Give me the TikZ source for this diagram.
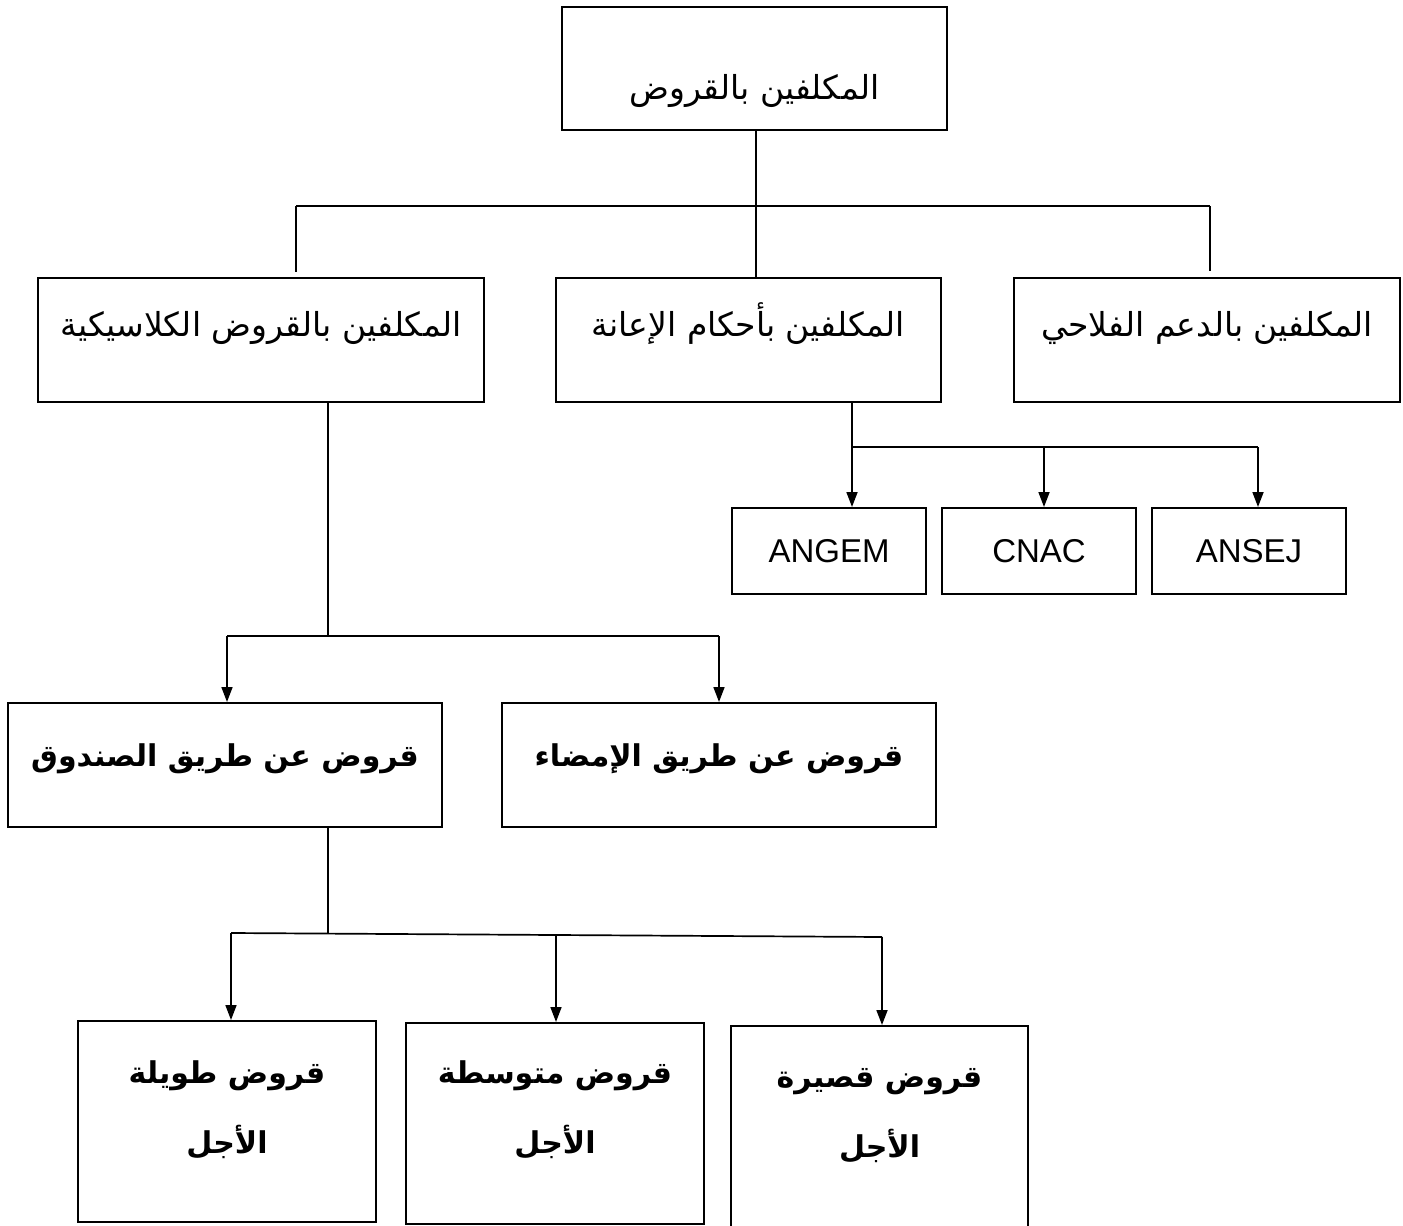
\documentclass[tikz,border=0pt]{standalone}
\usepackage{fontspec}
\setmainfont{Liberation Sans}
\newfontfamily\arabicfont[Script=Arabic]{DejaVu Sans}
\usetikzlibrary{arrows.meta}
\TeXXeTstate=1
\newcommand\arline[2]{\makebox[0pt]{\raisebox{#1pt}[0pt][0pt]{\arabicfont #2}}}
\tikzset{
  box/.style={draw, line width=2pt, inner sep=0pt, font=\fontsize{33}{40}\selectfont},
  boldbox/.style={box, font=\fontsize{30}{36}\selectfont\bfseries},
  latin/.style={box, font=\fontsize{33}{40}\selectfont},
  conn/.style={line width=1.7pt},
  arr/.style={conn, -{Triangle[length=15pt,width=11pt]}},
}
\begin{document}
\begin{tikzpicture}[x=1pt,y=-1pt]
\useasboundingbox (0,0) rectangle (1403,1226);
\clip (0,0) rectangle (1403,1226);
% level 0
\node[box, minimum width=385pt, minimum height=123pt] (T) at (754.5,68.5) {\arline{-30.5}{\beginR المكلفين بالقروض\endR}};
% level 1
\node[box, minimum width=446pt, minimum height=124pt] (L1) at (261,340) {\arline{4}{\beginR المكلفين بالقروض الكلاسيكية\endR}};
\node[box, minimum width=385pt, minimum height=124pt] (M1) at (748.5,340) {\arline{4}{\beginR المكلفين بأحكام الإعانة\endR}};
\node[box, minimum width=386pt, minimum height=124pt] (R1) at (1207,340) {\arline{4}{\beginR المكلفين بالدعم الفلاحي\endR}};
% agencies
\node[latin, minimum width=194pt, minimum height=86pt] (ANGEM) at (829,551) {ANGEM};
\node[latin, minimum width=194pt, minimum height=86pt] (CNAC) at (1039,551) {CNAC};
\node[latin, minimum width=194pt, minimum height=86pt] (ANSEJ) at (1249,551) {ANSEJ};
% level 2
\node[boldbox, minimum width=434pt, minimum height=124pt] (S) at (225,765) {\arline{-1}{\beginR قروض عن طريق الصندوق\endR}};
\node[boldbox, minimum width=434pt, minimum height=124pt] (I) at (719,765) {\arline{-1}{\beginR قروض عن طريق الإمضاء\endR}};
% level 3
\node[boldbox, minimum width=298pt, minimum height=201pt] (LT) at (227,1121.5) {\arline{38.5}{\beginR قروض طويلة\endR}\arline{-31.5}{\beginR الأجل\endR}};
\node[boldbox, minimum width=298pt, minimum height=201pt] (MT) at (555,1123.5) {\arline{40.5}{\beginR قروض متوسطة\endR}\arline{-29.5}{\beginR الأجل\endR}};
\node[boldbox, minimum width=297pt, minimum height=204pt] (ST) at (879.5,1128) {\arline{41}{\beginR قروض قصيرة\endR}\arline{-29}{\beginR الأجل\endR}};
% connectors level 0 -> 1
\coordinate (b0) at (756,206);
\coordinate (bL) at (296,206);
\coordinate (bR) at (1210,206);
\draw[conn] (T.south -| b0) -- (b0 |- M1.north);
\draw[conn] (bL) -- (bR);
\draw[conn, shorten >=5pt] (bL) -- (bL |- L1.north);
\draw[conn, shorten >=6pt] (bR) -- (bR |- R1.north);
% M1 -> agencies
\coordinate (j1) at (852,447);
\coordinate (j1r) at (1258,447);
\coordinate (j1m) at (1044,447);
\draw[conn] (M1.south -| j1) -- (j1) -- (j1r);
\draw[arr] (j1) -- (j1 |- ANGEM.north);
\draw[arr] (j1m) -- (j1m |- CNAC.north);
\draw[arr] (j1r) -- (j1r |- ANSEJ.north);
% L1 -> level 2
\coordinate (j2) at (328,636);
\coordinate (j2l) at (227,636);
\coordinate (j2r) at (719,636);
\draw[conn] (L1.south -| j2) -- (j2);
\draw[conn] (j2l) -- (j2r);
\draw[arr] (j2l) -- (j2l |- S.north);
\draw[arr] (j2r) -- (j2r |- I.north);
% S -> level 3
\coordinate (j3) at (328,934);
\coordinate (j3l) at (231,933);
\coordinate (j3m) at (556,935);
\coordinate (j3r) at (882,937);
\draw[conn] (S.south -| j3) -- (j3);
\draw[conn] (j3l) -- (j3r);
\draw[arr] (j3l) -- (j3l |- LT.north);
\draw[arr] (j3m) -- (j3m |- MT.north);
\draw[arr] (j3r) -- (j3r |- ST.north);
\end{tikzpicture}
\end{document}
